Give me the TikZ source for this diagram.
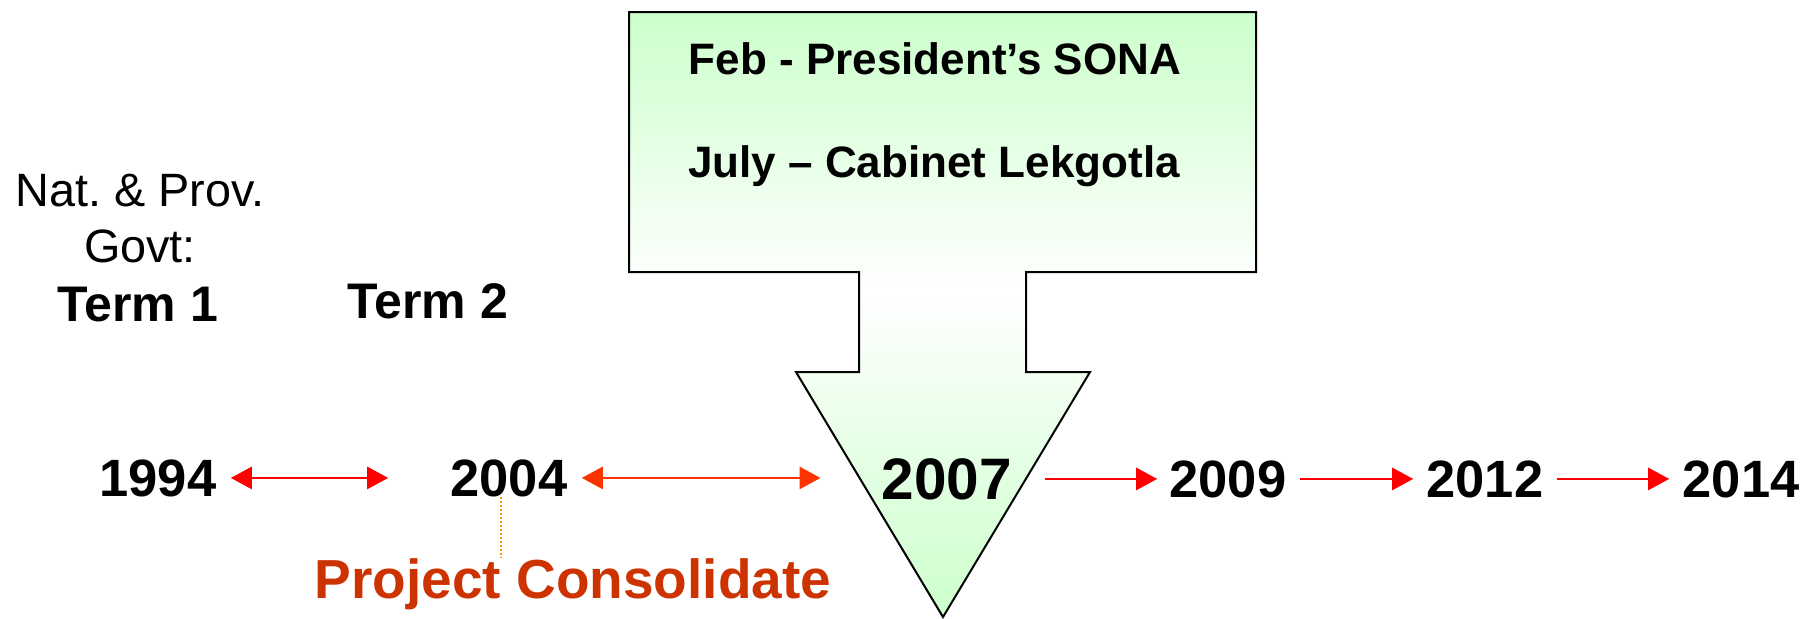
\documentclass[tikz,border=0pt]{standalone}
\usepackage{fontspec}
\setmainfont{Liberation Sans}
\usetikzlibrary{arrows.meta,calc}
\definecolor{lgreen}{HTML}{CCFFCC}
\definecolor{paleg}{HTML}{FFFFFF}
\definecolor{arrred}{HTML}{FF0000}
\definecolor{arrorange}{HTML}{FF3300}
\definecolor{dotorange}{HTML}{FF9900}
\definecolor{pcred}{HTML}{CC3300}
\pgfdeclareverticalshading{arrowshade}{100bp}{color(0bp)=(lgreen); color(25bp)=(lgreen); color(52bp)=(paleg); color(75bp)=(lgreen); color(100bp)=(lgreen)}
\tikzset{
  year/.style={font=\bfseries\fontsize{26.25}{30}\selectfont, inner sep=0pt, anchor=base},
  bigyear/.style={font=\bfseries\fontsize{29.25}{33}\selectfont, inner sep=0pt, anchor=base},
  eventtext/.style={font=\bfseries\fontsize{22}{26}\selectfont, inner sep=0pt, anchor=base},
  govtext/.style={font=\fontsize{23.4}{28}\selectfont, inner sep=0pt, anchor=base},
  termtext/.style={font=\bfseries\fontsize{25}{30}\selectfont, inner sep=0pt, anchor=base},
  pctext/.style={font=\bfseries\fontsize{27.5}{32}\selectfont, text=pcred, inner sep=0pt, anchor=base},
  onearrow/.style={draw=arrred, line width=1.4pt, -{Triangle[length=10.5pt,width=11pt]}},
  twoarrow/.style={line width=1.4pt, {Triangle[length=10.5pt,width=11pt]}-{Triangle[length=10.5pt,width=11pt]}},
  bigarrow/.style={draw=black, line width=1pt, shading=arrowshade},
  dotline/.style={draw=dotorange, line width=1pt, dash pattern=on 1pt off 1pt}
}
\begin{document}
\begin{tikzpicture}[x=0.5pt,y=-0.5pt]
\useasboundingbox (0,0) rectangle (1805,618);
% big down arrow
\shadedraw[bigarrow] (629,12) -- (1256,12) -- (1256,272) -- (1026,272) -- (1026,372)
  -- (1090,372) -- (943,617) -- (796,372) -- (859,372) -- (859,272) -- (629,272) -- cycle;
\node[eventtext] (feb) at (935,74) {Feb - President’s SONA};
\node[eventtext] (july) at (934,177) {July – Cabinet Lekgotla};
% left labels
\node[govtext] (nat) at (140,206) {Nat.\ \& Prov.};
\node[govtext] (govt) at (140,262) {Govt:};
\node[termtext] (term1) at (138,321) {Term 1};
\node[termtext] (term2) at (428,318) {Term 2};
% years
\node[year] (y1994) at (158,496) {1994};
\node[year] (y2004) at (509,496) {2004};
\node[bigyear] (y2007) at (947,499) {2007};
\node[year] (y2009) at (1228,497) {2009};
\node[year] (y2012) at (1485,497) {2012};
\node[year] (y2014) at (1741,497) {2014};
% connectors
\draw[twoarrow, draw=arrred, fill=arrred, shorten <=7pt, shorten >=31pt] (y1994.east) -- (y2004.west);
\draw[twoarrow, draw=arrorange, fill=arrorange, shorten <=7pt, shorten >=30.5pt] (y2004.east) -- (y2004.east -| y2007.west);
\draw[onearrow, fill=arrred, shorten <=16.5pt, shorten >=6pt] (y2007.east |- y2009.east) -- (y2009.west);
\draw[onearrow, fill=arrred, shorten <=6.5pt, shorten >=6.5pt] (y2009.east) -- (y2012.west);
\draw[onearrow, fill=arrred, shorten <=6.5pt, shorten >=6.5pt] (y2012.east) -- (y2014.west);
% project consolidate
\node[pctext] (pc) at (573,598) {Project Consolidate};
\coordinate (dx) at (501,0);
\draw[dotline] (y2004.south -| dx) -- (pc.north -| dx);
\end{tikzpicture}
\end{document}
